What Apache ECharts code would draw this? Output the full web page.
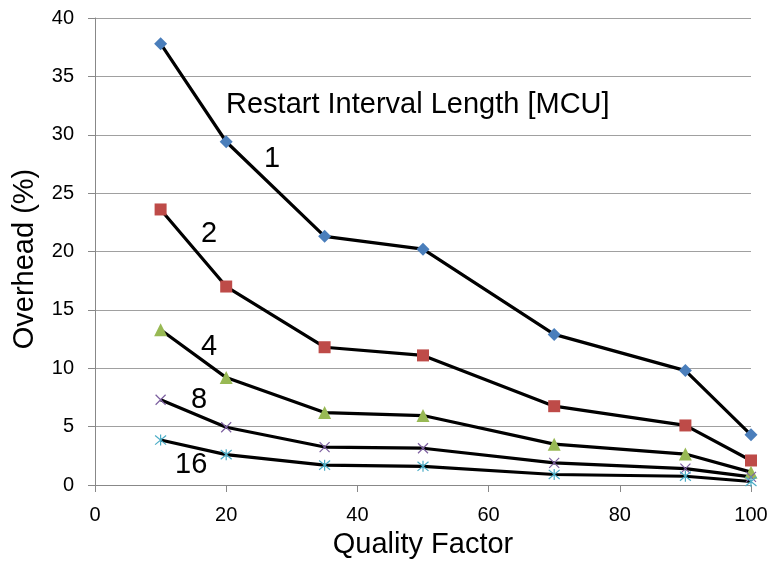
<!DOCTYPE html>
<html><head><meta charset="utf-8">
<script src="https://cdn.jsdelivr.net/npm/echarts@6/dist/echarts.min.js"></script>
<style>html,body{margin:0;padding:0;background:#fff}#c{width:771px;height:564px}</style>
</head><body><div id="c"></div>
<script>
const quality = [10, 20, 35, 50, 70, 90, 100];
const len1  = [37.8, 29.4, 21.3, 20.2, 12.9, 9.8, 4.3];
const len2  = [23.6, 17.0, 11.8, 11.1, 6.75, 5.1, 2.1];
const len4  = [13.3, 9.2, 6.2, 5.95, 3.5, 2.65, 1.1];
const len8  = [7.3, 4.95, 3.25, 3.15, 1.9, 1.4, 0.7];
const len16 = [3.85, 2.6, 1.7, 1.6, 0.9, 0.75, 0.3];
const seriesNames = ['1', '2', '4', '8', '16'];

const FONT = '"Liberation Sans", Arial, Helvetica, sans-serif';
const pair = a => quality.map((q, i) => [q, a[i]]);
const xPath = 'path://M0 0 L10 10 M10 0 L0 10';
const starPath = 'path://M0 0 L10 10 M10 0 L0 10 M5 -1 L5 11';

function mk(name, data, symbol, color, size, stroke) {
  return {
    name, type: 'line', data: pair(data),
    symbol, symbolSize: size,
    lineStyle: { color: '#000', width: 3.2 },
    itemStyle: stroke ? { color: color, borderColor: color, borderWidth: 1.2 } : { color: color, borderWidth: 0 },
    z: 3
  };
}

const chart = echarts.init(document.getElementById('c'), null, { renderer: 'canvas' });
chart.setOption({
  animation: false,
  backgroundColor: '#fff',
  grid: { left: 95, right: 20, top: 18, bottom: 78 },
  xAxis: {
    type: 'value', min: 0, max: 100, interval: 20,
    name: 'Quality Factor', nameLocation: 'middle', nameGap: 45,
    nameTextStyle: { fontFamily: FONT, fontSize: 29, color: '#000' },
    axisLine: { show: true, lineStyle: { color: '#888', width: 1 } },
    axisTick: { show: true, length: 7, lineStyle: { color: '#888' } },
    axisLabel: { fontFamily: FONT, fontSize: 20, color: '#000', margin: 20 },
    splitLine: { show: false }
  },
  yAxis: {
    type: 'value', min: 0, max: 40, interval: 5,
    name: 'Overhead (%)', nameLocation: 'middle', nameGap: 56, nameRotate: 90,
    nameTextStyle: { fontFamily: FONT, fontSize: 29, color: '#000', padding: [0, 15, 0, 0] },
    axisLine: { show: true, lineStyle: { color: '#888', width: 1 } },
    axisTick: { show: true, length: 7, lineStyle: { color: '#888' } },
    axisLabel: { fontFamily: FONT, fontSize: 20, color: '#000', margin: 21 },
    splitLine: { show: true, lineStyle: { color: '#a0a0a0', width: 1 } }
  },
  series: [
    mk(seriesNames[0], len1, 'diamond', '#4a7ebb', 13, false),
    mk(seriesNames[1], len2, 'rect', '#be4b48', 12, false),
    mk(seriesNames[2], len4, 'triangle', '#98b954', 13, false),
    mk(seriesNames[3], len8, xPath, '#7d60a0', 10, true),
    mk(seriesNames[4], len16, starPath, '#4bacc6', 11, true)
  ],
  graphic: [
    { type: 'text', left: 226, top: 90, style: { text: 'Restart Interval Length [MCU]', font: '29px ' + FONT, fill: '#000' } },
    { type: 'text', left: 264, top: 144, style: { text: '1', font: '29px ' + FONT, fill: '#000' } },
    { type: 'text', left: 201, top: 219, style: { text: '2', font: '29px ' + FONT, fill: '#000' } },
    { type: 'text', left: 201, top: 332, style: { text: '4', font: '29px ' + FONT, fill: '#000' } },
    { type: 'text', left: 191, top: 385, style: { text: '8', font: '29px ' + FONT, fill: '#000' } },
    { type: 'text', left: 175, top: 450, style: { text: '16', font: '29px ' + FONT, fill: '#000' } }
  ]
});
</script></body></html>
